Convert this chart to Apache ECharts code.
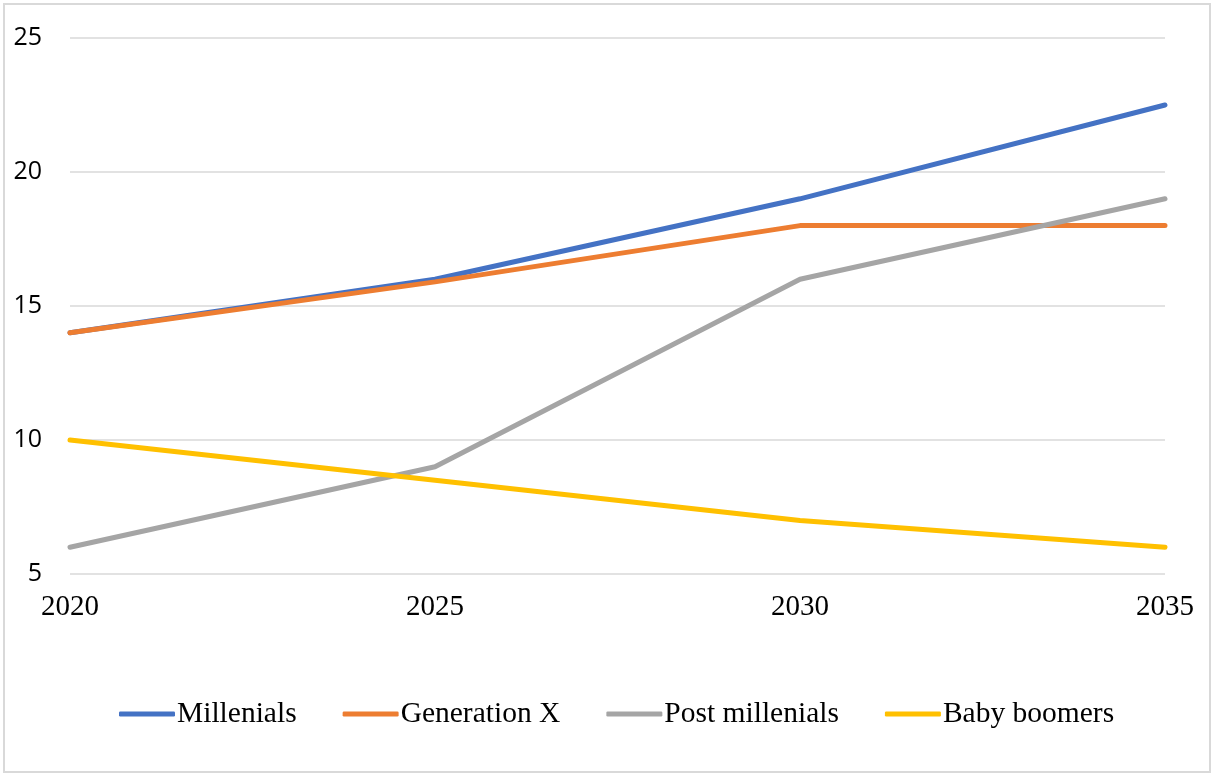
<!DOCTYPE html>
<html>
<head>
<meta charset="utf-8">
<script src="https://cdn.jsdelivr.net/npm/echarts@6/dist/echarts.min.js"></script>
<style>
  html, body { margin: 0; padding: 0; background: #fff; }
  #chart { width: 1212px; height: 776px; }
</style>
</head>
<body>
<div id="chart"></div>
<script>
const years = ["2020", "2025", "2030", "2035"];
const millenials = [14, 16, 19, 22.5];
const generationX = [14, 15.9, 18, 18];
const postMillenials = [6, 9, 16, 19];
const babyBoomers = [10, 8.5, 7, 6];

const chart = echarts.init(document.getElementById("chart"));

function lineSeries(name, data, color) {
  return {
    name: name,
    type: "line",
    data: data,
    symbol: "none",
    lineStyle: { width: 5, color: color, cap: "round" },
    itemStyle: { color: color },
  };
}

const option = {
  animation: false,
  backgroundColor: "#fff",
  graphic: [
    {
      type: "rect",
      shape: { x: 4, y: 4, width: 1206, height: 768 },
      style: { fill: "none", stroke: "#d9d9d9", lineWidth: 2 },
      silent: true,
    },
  ],
  grid: {
    left: 70,
    right: 47,
    top: 38,
    bottom: 202,
  },
  xAxis: {
    type: "category",
    data: years,
    boundaryGap: false,
    axisLine: { show: false },
    axisTick: { show: false },
    axisLabel: {
      margin: 19,
      fontFamily: "Liberation Serif",
      fontSize: 29,
      color: "#000",
    },
  },
  yAxis: {
    type: "value",
    min: 5,
    max: 25,
    interval: 5,
    axisLine: { show: false },
    axisTick: { show: false },
    axisLabel: {
      margin: 28,
      fontFamily: "Open Sans",
      fontSize: 25,
      color: "#000",
    },
    splitLine: { lineStyle: { color: "#d9d9d9", width: 1.5 } },
  },
  legend: {
    top: 694,
    left: 114,
    icon: "roundRect",
    itemWidth: 56,
    itemHeight: 5,
    itemGap: 46,
    textStyle: {
      fontFamily: "Liberation Serif",
      fontSize: 29.5,
      color: "#000",
      padding: [0, 0, 0, -3],
    },
  },
  series: [
    lineSeries("Millenials", millenials, "#4472C4"),
    lineSeries("Generation X", generationX, "#ED7D31"),
    lineSeries("Post millenials", postMillenials, "#A5A5A5"),
    lineSeries("Baby boomers", babyBoomers, "#FFC000"),
  ],
};

chart.setOption(option);
</script>
</body>
</html>
